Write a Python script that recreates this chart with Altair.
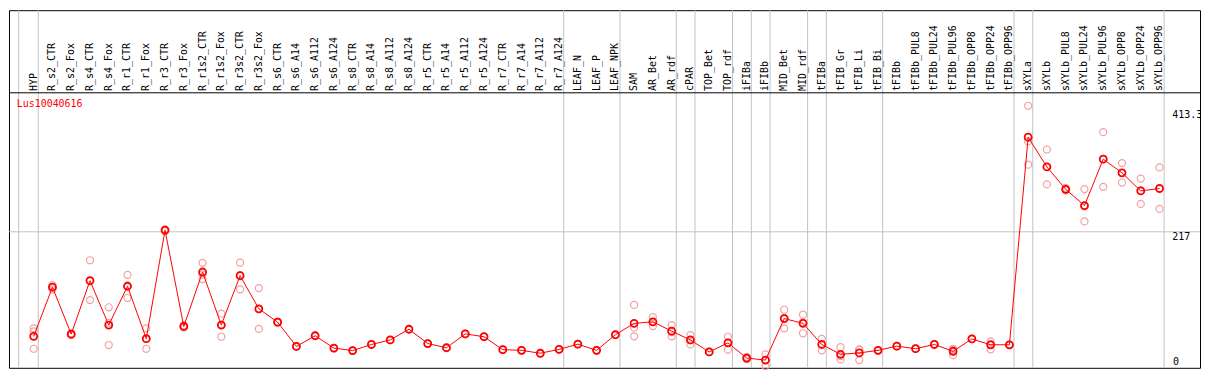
import altair as alt
import pandas as pd

# ---------------- data ----------------
gene = "Lus10040616"

samples = [
    "HYP", "R_s2_CTR", "R_s2_Fox", "R_s4_CTR", "R_s4_Fox", "R_r1_CTR", "R_r1_Fox",
    "R_r3_CTR", "R_r3_Fox", "R_r1s2_CTR", "R_r1s2_Fox", "R_r3s2_CTR", "R_r3s2_Fox",
    "R_s6_CTR", "R_s6_A14", "R_s6_A112", "R_s6_A124", "R_s8_CTR", "R_s8_A14",
    "R_s8_A112", "R_s8_A124", "R_r5_CTR", "R_r5_A14", "R_r5_A112", "R_r5_A124",
    "R_r7_CTR", "R_r7_A14", "R_r7_A112", "R_r7_A124", "LEAF_N", "LEAF_P", "LEAF_NPK",
    "SAM", "AR_Bet", "AR_rdf", "cPAR", "TOP_Bet", "TOP_rdf", "iFIBa", "iFIBb",
    "MID_Bet", "MID_rdf", "tFIBa", "tFIB_Gr", "tFIB_Li", "tFIB_Bi", "tFIBb",
    "tFIBb_PUL8", "tFIBb_PUL24", "tFIBb_PUL96", "tFIBb_OPP8", "tFIBb_OPP24",
    "tFIBb_OPP96", "sXYLa", "sXYLb", "sXYLb_PUL8", "sXYLb_PUL24", "sXYLb_PUL96",
    "sXYLb_OPP8", "sXYLb_OPP24", "sXYLb_OPP96",
]

means = [
    48, 127.5, 51.6, 138, 66.3, 129, 44.3, 219.7, 64, 152, 66.3, 146, 92.5,
    71, 31.7, 49, 29, 25, 34.9, 42.2, 59.5, 36.4, 29.6, 52, 47.4,
    26.5, 25.4, 20.7, 27, 35.4, 25.4, 50.6,
    69, 71.5, 56.4, 42.2, 22.8, 37.5, 12.9, 9.7,
    76.8, 69, 34.9, 19, 21.2, 25.4, 32.2,
    28.1, 34.9, 23.9, 43.8, 34.4, 34.4,
    369.8, 321.8, 285.6, 259.4, 334.3, 312.3, 283, 287,
]

replicates = [
    [61, 56, 28], [131, 128, 124], [53, 51, 50], [171, 137, 106.6], [95, 70, 34],
    [147.4, 130, 110], [61, 44, 28], [221, 219, 218], [66, 64, 62],
    [166.8, 148, 140.6], [84.6, 67, 47.4], [167, 147, 124], [126, 92, 60],
    [72, 71, 70], [32, 31.5], [49.5, 48.5], [29.5, 28.5], [25.5, 24.5], [35, 34.8],
    [42.5, 42], [60, 59], [36.8, 36], [30, 29.2], [52.5, 51.5], [47.8, 47],
    [27, 26], [25.8, 25], [21, 20.4], [27.4, 26.6], [35.8, 35], [25.8, 25], [51, 50.2],
    [98.8, 62, 48], [79, 71, 64.7], [66.3, 55, 48], [50, 42, 35], [23.2, 22.4],
    [47.4, 38, 26.5], [15, 13, 11], [19, 10, 0],
    [91, 78, 61], [83, 71, 53], [43.8, 35, 25.4], [30.6, 16, 10.8], [27, 26, 9.7],
    [25.8, 25], [32.6, 31.8],
    [28.5, 27.7], [35.3, 34.5], [28, 26, 17.6], [44.2, 43.4], [40, 36, 27], [34.8, 34],
    [420.7, 363, 325.4], [350, 322, 293.5], [288, 285, 284], [286, 258, 233.8],
    [378, 335, 289.7], [328, 312, 296.6], [303, 284, 262], [321, 286, 254],
]

# group separators: vertical grey lines drawn right after these sample positions
separators_after = [0, 28, 31, 34, 35, 37, 38, 39, 41, 42, 45, 52, 53, 60]
leading_separator = -0.8

tick_values = [413.3, 217, 0]
tick_labels = ["413.3", "217", "0"]
grid_values = [217]

# ---------------- tables ----------------
df_mean = pd.DataFrame({"idx": list(range(len(samples))), "sample": samples, "mean": means})
df_rep = pd.DataFrame(
    [{"idx": i, "value": v} for i, vals in enumerate(replicates) for v in vals]
)
df_sep = pd.DataFrame({"xpos": [leading_separator] + [s + 0.245 for s in separators_after]})
df_ticks = pd.DataFrame({"value": tick_values, "label": tick_labels})
df_grid = pd.DataFrame({"value": grid_values})
df_gene = pd.DataFrame({"name": [gene]})

HEADER_LINE = 441.6     # value where the header box ends
HEADER_BASE = 444.7     # value where rotated labels start

# ---------------- scales ----------------
W, H = 1199, 360
X_DOM = [-1.3158, 62.158]
Y_DOM = [-2.8, 575.1]
xs = alt.Scale(domain=X_DOM, nice=False, zero=False)
ys = alt.Scale(domain=Y_DOM, nice=False, zero=False)
FONT = "DejaVu Sans Mono"
RED = "#ff0000"
PINK = "#f2a0a0"
GREY = "#c3c3c3"

X = lambda f: alt.X(f, type="quantitative", scale=xs, axis=None)
Y = lambda f: alt.Y(f, type="quantitative", scale=ys, axis=None)

vsep = alt.Chart(df_sep).mark_rule(color=GREY, strokeWidth=1).encode(
    x=X("xpos"), y=alt.value(0), y2=alt.value(H),
)

hgrid = alt.Chart(df_grid).mark_rule(color=GREY, strokeWidth=1).encode(
    y=Y("value"), x=alt.value(0), x2=alt.value(W),
)

header_line = alt.Chart(df_grid).transform_calculate(
    hl=str(HEADER_LINE)
).mark_rule(color="black", strokeWidth=1).encode(
    y=Y("hl"), x=alt.value(0), x2=alt.value(W),
)

header = alt.Chart(df_mean).transform_calculate(
    hb=str(HEADER_BASE)
).mark_text(
    angle=270, align="left", baseline="middle", font=FONT, fontSize=10, color="black"
).encode(
    x=X("idx"), y=Y("hb"), text="sample:N",
)

gene_label = alt.Chart(df_gene).transform_calculate(
    gx="-0.9", gy="423.5"
).mark_text(
    align="left", baseline="middle", font=FONT, fontSize=10, color=RED
).encode(
    x=X("gx"), y=Y("gy"), text="name:N",
)

tick_top = alt.Chart(df_ticks).transform_filter("datum.value > 0").transform_calculate(
    tx="60.68"
).mark_text(
    align="left", baseline="top", font=FONT, fontSize=10, color="black"
).encode(
    x=X("tx"), y=Y("value"), text="label:N",
)
tick_zero = alt.Chart(df_ticks).transform_filter("datum.value == 0").transform_calculate(
    tx="60.72"
).mark_text(
    align="left", baseline="alphabetic", font=FONT, fontSize=10, color="black", dy=-1
).encode(
    x=X("tx"), y=Y("value"), text="label:N",
)

reps = alt.Chart(df_rep).mark_point(
    shape="circle", filled=False, size=50, strokeWidth=1.2, color=PINK, opacity=1
).encode(
    x=X("idx"), y=Y("value"),
)

line = alt.Chart(df_mean).mark_line(color=RED, strokeWidth=1).encode(
    x=X("idx"), y=Y("mean"),
)

pts = alt.Chart(df_mean).mark_point(
    shape="circle", filled=False, size=50, strokeWidth=1.8, color=RED, opacity=1
).encode(
    x=X("idx"), y=Y("mean"),
)

chart = alt.layer(
    vsep, hgrid, header_line, header, gene_label, tick_top, tick_zero, reps, line, pts
).properties(
    width=W, height=H,
    autosize=alt.AutoSizeParams(type="none"),
    padding={"left": 1, "top": 1, "right": 1, "bottom": 1},
    background="white",
).configure_view(
    stroke="black", strokeWidth=1
)

chart.save("out.html", embed_options={"renderer": "svg", "actions": False})
